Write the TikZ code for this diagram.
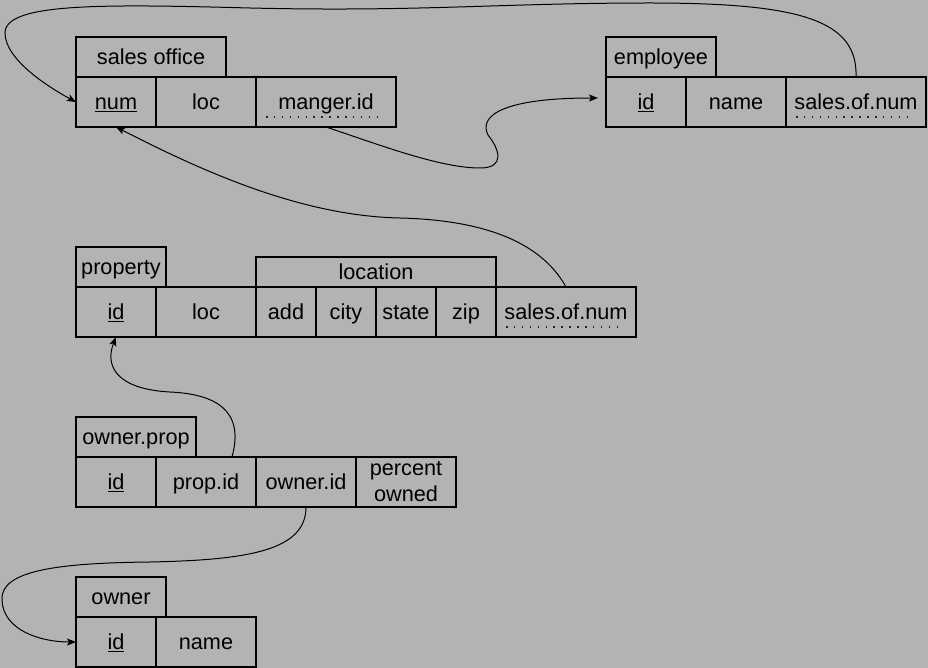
\documentclass[tikz,border=0pt]{standalone}
\usepackage{fontspec}
\setmainfont{Liberation Sans}
\usetikzlibrary{arrows.meta}
\definecolor{bg}{HTML}{B3B3B3}
\newcommand\myul[1]{\setbox0\hbox{#1}\rlap{\rule[-2.6pt]{\wd0}{1.3pt}}\box0}
\begin{document}
\begin{tikzpicture}[x=1pt,y=-1pt,
  cell/.style={draw=black, line width=1.1pt, anchor=north west, inner sep=0pt, outer sep=0pt,
    minimum height=50pt, text height=20pt, text depth=5pt, font=\fontsize{21.7}{26}\selectfont},
  hdr/.style={cell, minimum height=40pt},
  conn/.style={line width=1pt, -{Stealth[length=9pt,width=7pt,inset=2pt]}},
  dotline/.style={line width=1.8pt, black!85, dash pattern=on 1.5pt off 6.4pt}]
\fill[bg] (0,0) rectangle (928,668);
\useasboundingbox (0,0) rectangle (928,668);

% sales office
\node[hdr, minimum width=150pt] (so-h) at (76,37) {sales office};
\node[cell, minimum width=80pt] (so-num) at (76,77) {\myul{num}};
\node[cell, minimum width=100pt] (so-loc) at (156,77) {loc};
\node[cell, minimum width=140pt] (so-mgr) at (256,77) {manger.id};
\draw[dotline] ([xshift=10pt,yshift=10pt]so-mgr.south west) -- ([xshift=-12pt,yshift=10pt]so-mgr.south east);

% employee
\node[hdr, minimum width=110pt] (emp-h) at (606,37) {employee};
\node[cell, minimum width=80pt] (emp-id) at (606,77) {\myul{id}};
\node[cell, minimum width=100pt] (emp-name) at (686,77) {name};
\node[cell, minimum width=140pt] (emp-snum) at (786,77) {sales.of.num};
\draw[dotline] ([xshift=10pt,yshift=10pt]emp-snum.south west) -- ([xshift=-12pt,yshift=10pt]emp-snum.south east);

% property
\node[hdr, minimum width=90pt] (prop-h) at (76,247) {property};
\node[cell, minimum width=240pt, minimum height=30pt] (prop-lochdr) at (256,257) {location};
\node[cell, minimum width=80pt] (prop-id) at (76,287) {\myul{id}};
\node[cell, minimum width=100pt] (prop-loc) at (156,287) {loc};
\node[cell, minimum width=60pt] (prop-add) at (256,287) {add};
\node[cell, minimum width=60pt] (prop-city) at (316,287) {city};
\node[cell, minimum width=60pt] (prop-state) at (376,287) {state};
\node[cell, minimum width=60pt] (prop-zip) at (436,287) {zip};
\node[cell, minimum width=140pt] (prop-snum) at (496,287) {sales.of.num};
\draw[dotline] ([xshift=10pt,yshift=10pt]prop-snum.south west) -- ([xshift=-12pt,yshift=10pt]prop-snum.south east);

% owner.prop
\node[hdr, minimum width=120pt] (op-h) at (76,417) {owner.prop};
\node[cell, minimum width=80pt] (op-id) at (76,457) {\myul{id}};
\node[cell, minimum width=100pt] (op-pid) at (156,457) {prop.id};
\node[cell, minimum width=100pt] (op-oid) at (256,457) {owner.id};
\node[cell, minimum width=100pt, align=center, text height=, text depth=] (op-pct) at (356,457) {percent\\owned};

% owner
\node[hdr, minimum width=90pt] (ow-h) at (76,577) {owner};
\node[cell, minimum width=80pt] (ow-id) at (76,617) {\myul{id}};
\node[cell, minimum width=100pt] (ow-name) at (156,617) {name};

% connectors
\draw[conn] (emp-snum.north) .. controls (858,20) and (800,3) .. (650,3)
  .. controls (500,3) and (420,12) .. (250,8)
  .. controls (100,4) and (5,3) .. (5,33)
  .. controls (5,60) and (50,88) .. (so-num.west);
\draw[conn] (so-mgr.south) .. controls (380,145) and (440,168) .. (480,168)
  .. controls (505,168) and (500,150) .. (488,135)
  .. controls (478,115) and (505,98) .. ([xshift=-8pt,yshift=4pt]emp-id.west);
\draw[conn] (prop-snum.north) .. controls (540,240) and (480,220) .. (400,218)
  .. controls (300,216) and (200,170) .. (so-num.south);
\draw[conn] ([xshift=26pt]op-pid.north) .. controls (245,410) and (215,394) .. (170,392)
  .. controls (115,389) and (105,365) .. (prop-id.south);
\draw[conn] (op-oid.south) .. controls (306,550) and (250,560) .. (150,562)
  .. controls (60,563) and (0,570) .. (2,600)
  .. controls (3,630) and (40,642) .. (ow-id.west);
\end{tikzpicture}
\end{document}
